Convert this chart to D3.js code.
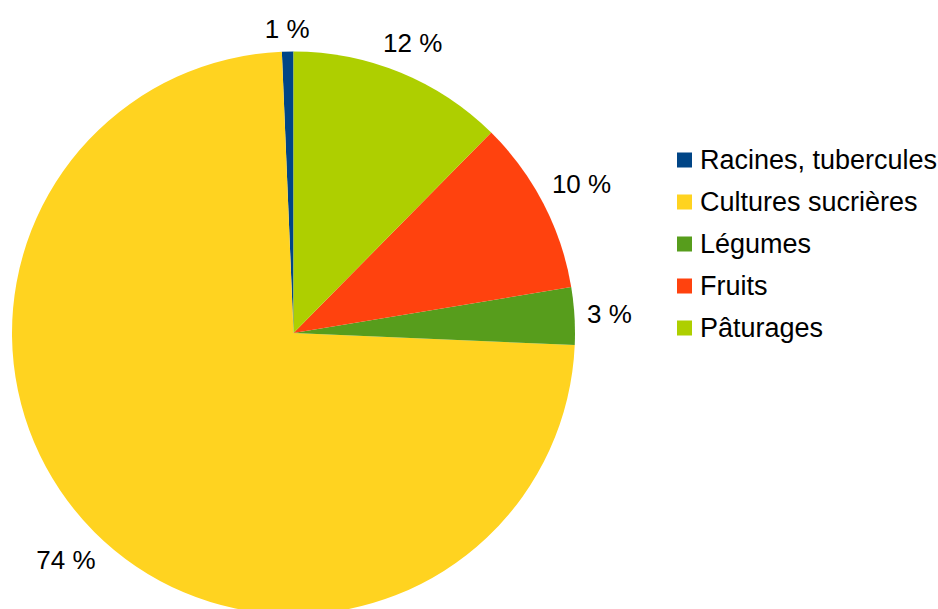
<!DOCTYPE html>
<html lang="fr">
<head>
  <meta charset="utf-8">
  <title>Répartition</title>
  <style>
    html, body { margin: 0; padding: 0; background: #fff; }
    svg { display: block; font-family: "Liberation Sans", Arial, sans-serif; }
  </style>
</head>
<body>
  <script src="https://cdn.jsdelivr.net/npm/d3@7/dist/d3.min.js"></script>
  <script>
    // data, in the order LibreOffice draws it (counter-clockwise from 12 o'clock)
    var categories = ["Racines, tubercules", "Cultures sucrières", "Légumes", "Fruits", "Pâturages"];
    var values = [0.66, 73.7, 3.3, 10.0, 12.4];
    var colors = ["#004586", "#ffd320", "#579d1c", "#ff420e", "#aecf00"];

    var width = 938;
    var height = 609;

    var cx = 293.5;
    var cy = 333;
    var radius = 281.5;

    var fontSize = 26;

    var svg = d3.select("body").append("svg")
      .attr("width", width)
      .attr("height", height);

    var total = d3.sum(values);

    var data = categories.map(function(c, i) {
      return { name: c, value: values[i], color: colors[i] };
    });

    var pie = d3.pie()
      .sort(null)
      .value(function(d) { return d.value; })
      .startAngle(0)
      .endAngle(-2 * Math.PI);

    var arc = d3.arc()
      .innerRadius(0)
      .outerRadius(radius);

    var g = svg.append("g")
      .attr("transform", "translate(" + cx + "," + cy + ")");

    var arcs = pie(data);

    g.selectAll("path")
      .data(arcs)
      .enter().append("path")
      .attr("d", arc)
      .attr("fill", function(d) { return d.data.color; });

    // percentage labels outside the pie
    var labels = g.selectAll("text.pct")
      .data(arcs)
      .enter().append("text")
      .attr("class", "pct")
      .attr("font-size", fontSize)
      .attr("fill", "#000")
      .attr("text-anchor", "middle")
      .attr("dy", "0.35em")
      .text(function(d) { return Math.round(d.data.value / total * 100) + " %"; });

    labels.each(function(d) {
      var a = (d.startAngle + d.endAngle) / 2;
      var w = this.getComputedTextLength();
      var h = 20;
      var s = Math.sin(a), c = Math.cos(a);
      var rr = radius + 12 + Math.abs(w / 2 * s) + Math.abs(h / 2 * c);
      d3.select(this)
        .attr("x", rr * s)
        .attr("y", -rr * c);
    });

    // legend
    var legend = svg.append("g")
      .attr("transform", "translate(677,160)")
      .selectAll("g")
      .data(data)
      .enter().append("g")
      .attr("transform", function(d, i) { return "translate(0," + i * 42 + ")"; });

    legend.append("rect")
      .attr("x", 0)
      .attr("y", -7.5)
      .attr("width", 15)
      .attr("height", 15)
      .attr("fill", function(d) { return d.color; });

    legend.append("text")
      .attr("x", 23)
      .attr("dy", "0.35em")
      .attr("font-size", 27)
      .attr("fill", "#000")
      .text(function(d) { return d.name; });
  </script>
</body>
</html>
